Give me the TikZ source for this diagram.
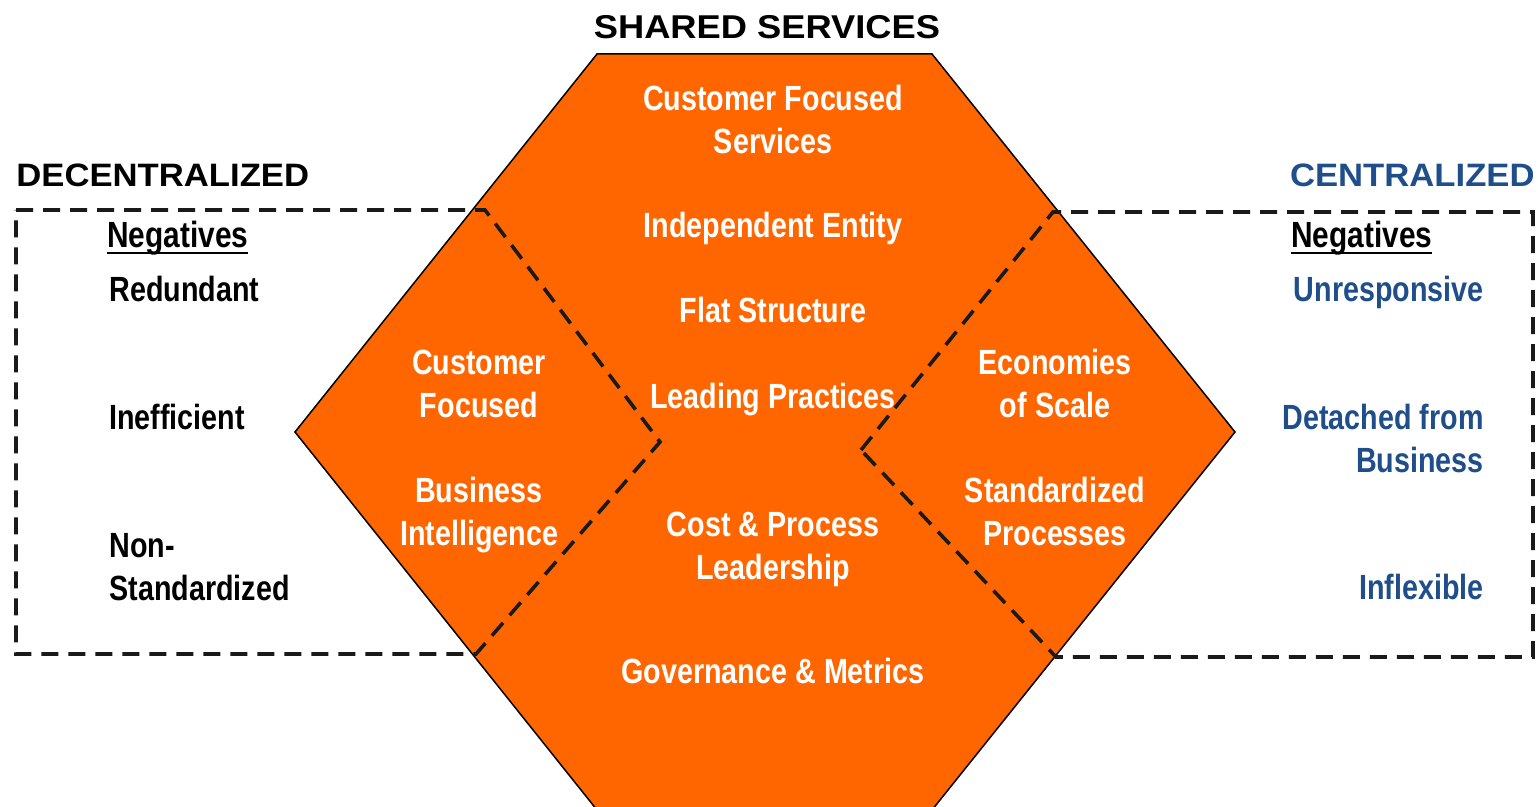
\documentclass[tikz,border=0pt]{standalone}
\usepackage{fontspec}
\newfontfamily\bodyfont[FakeStretch=0.82]{Liberation Sans}
\newfontfamily\titlefont[FakeStretch=1.1]{Liberation Sans}
\newfontfamily\sidetitlefont[FakeStretch=1.07]{Liberation Sans}
\definecolor{hexorange}{HTML}{FF6600}
\definecolor{navy}{HTML}{1F4E8A}
\definecolor{dashgray}{HTML}{1A1A1A}
\newcommand{\thickul}[1]{\setbox0=\hbox{#1}\leavevmode\rlap{\rule[-3.2pt]{\wd0}{1.3pt}}\box0}
\begin{document}
\begin{tikzpicture}[x=0.5pt,y=-0.5pt,
  body/.style={font=\bodyfont\bfseries\fontsize{17.5}{21.25}\selectfont, align=center, anchor=base, inner sep=0pt},
  inhex/.style={body, text=white},
  leftneg/.style={body, text=black, align=left, anchor=base west},
  rightneg/.style={body, text=navy, align=right, anchor=base east},
  neghead/.style={body, text=black, anchor=base west, font=\bodyfont\bfseries\fontsize{18.2}{22}\selectfont},
  titletext/.style={font=\titlefont\bfseries\fontsize{16.5}{20}\selectfont, inner sep=0pt, anchor=base},
  sidetitle/.style={font=\sidetitlefont\bfseries\fontsize{16.2}{20}\selectfont, inner sep=0pt},
  hexshape/.style={fill=hexorange, draw=black, line width=0.75pt, line join=miter},
  negbox/.style={draw=dashgray, line width=1.8pt, dash pattern=on 8.5pt off 5pt, line join=miter}]
\useasboundingbox (0,0) rectangle (1538,807);
\clip (0,0) rectangle (1538,807);

% hexagon
\coordinate (h1) at (597,54);
\coordinate (h2) at (932,54);
\coordinate (h3) at (1235,432);
\coordinate (h4) at (932,810);
\coordinate (h5) at (597,810);
\coordinate (h6) at (295,432);
\path[hexshape] (h1) -- (h2) -- (h3) -- (h4) -- (h5) -- (h6) -- cycle;

% dashed boxes
\coordinate (l1) at (16,210);
\coordinate (l2) at (485,210);
\coordinate (l3) at (660,442);
\coordinate (l4) at (476,654);
\coordinate (l5) at (16,654);
\draw[negbox] (l1) -- (l2) -- (l3) -- (l4) -- (l5) -- cycle;
\coordinate (r1) at (1053,212);
\coordinate (r2) at (1533,212);
\coordinate (r3) at (1533,657);
\coordinate (r4) at (1056,657);
\coordinate (r5) at (861,450);
\draw[negbox] (r5) -- (r1) -- (r2) -- (r3) -- (r4) -- cycle;

% titles
\node[titletext] (shared) at (767,39) {SHARED SERVICES};
\node[sidetitle, anchor=base west] (decen) at (16,187) {DECENTRALIZED};
\node[sidetitle, anchor=base east, text=navy] (cen) at (1535,187) {CENTRALIZED};

% center column (base anchor = baseline of the last line)
\node[inhex] (c1) at (773,153.5) {Customer Focused\\Services};
\node[inhex] (c2) at (773,238) {Independent Entity};
\node[inhex] (c3) at (773,323) {Flat Structure};
\node[inhex] (c4) at (773,409) {Leading Practices};
\node[inhex] (c5) at (773,579.5) {Cost \& Process\\Leadership};
\node[inhex] (c6) at (773,683) {Governance \& Metrics};

% left column in hexagon
\node[inhex] (lh1) at (479,417.5) {Customer\\Focused};
\node[inhex] (lh2) at (479,545.5) {Business\\Intelligence};

% right column in hexagon
\node[inhex] (rh1) at (1055,417.5) {Economies\\of Scale};
\node[inhex] (rh2) at (1055,545.5) {Standardized\\Processes};

% left negatives
\node[neghead] (ln0) at (107,248) {\thickul{Negatives}};
\node[leftneg] (ln1) at (109,302) {Redundant};
\node[leftneg] (ln2) at (109,430) {Inefficient};
\node[leftneg] (ln3) at (109,600.5) {Non-\\Standardized};

% right negatives
\node[neghead] (rn0) at (1291,248) {\thickul{Negatives}};
\node[rightneg] (rn1) at (1484,302) {Unresponsive};
\node[rightneg] (rn2) at (1484,472.5) {Detached from\\Business};
\node[rightneg] (rn3) at (1484,600) {Inflexible};
\end{tikzpicture}
\end{document}
